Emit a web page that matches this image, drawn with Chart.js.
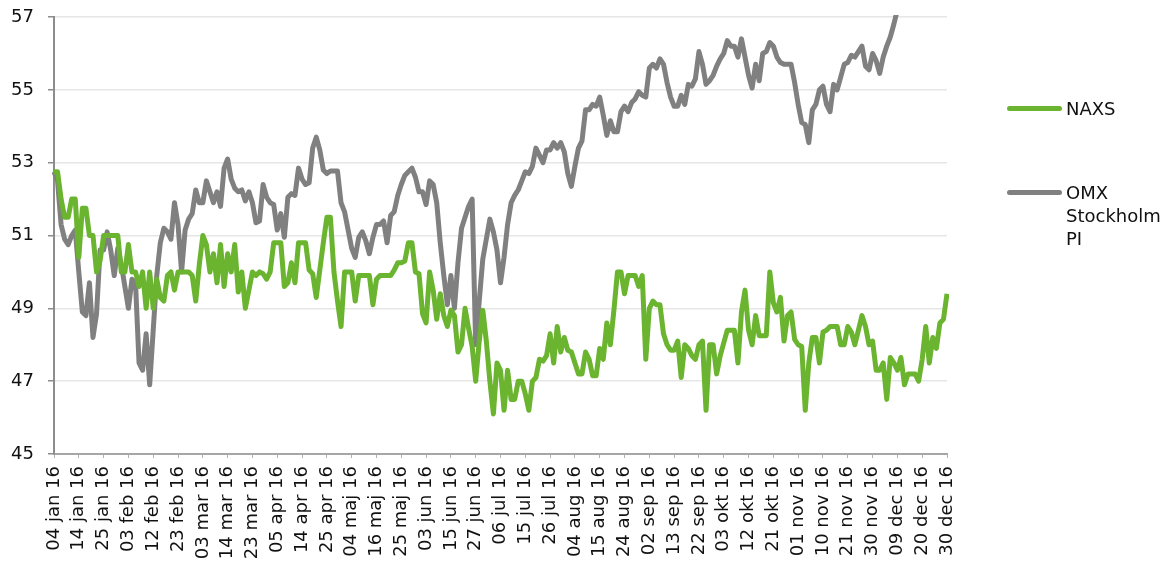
<!DOCTYPE html>
<html>
<head>
<meta charset="utf-8">
<script src="https://cdn.jsdelivr.net/npm/chart.js@4.4.1/dist/chart.umd.min.js"></script>
<style>
  html, body { margin: 0; padding: 0; background: #ffffff; }
  #wrap { position: relative; width: 1172px; height: 562px; overflow: hidden; }
  #chart { position: absolute; left: 0; top: 0; }
  .lg-swatch { position: absolute; height: 5px; border-radius: 3px; }
  .lg-text { position: absolute; font-family: "DejaVu Sans", Verdana, sans-serif; font-size: 18px; line-height: 23px; color: #111111; }
</style>
</head>
<body>
<div id="wrap">
  <canvas id="chart" width="1172" height="562"></canvas>
  <div class="lg-swatch" style="left:1007px; top:106px; width:55px; background:#6ab42f;"></div>
  <div class="lg-text" style="left:1066px; top:97px;">NAXS</div>
  <div class="lg-swatch" style="left:1007px; top:190px; width:55px; background:#808080;"></div>
  <div class="lg-text" style="left:1066px; top:181px;">OMX<br>Stockholm<br>PI</div>
</div>
<script>
// ---- Data ----
const monthNames = ['jan','feb','mar','apr','maj','jun','jul','aug','sep','okt','nov','dec'];
const holidays = ['2016-01-01','2016-01-06','2016-03-25','2016-03-28','2016-05-05','2016-06-06','2016-06-24','2016-12-26'];
const tickEvery = 7;

// Trading-day categories (Nasdaq Stockholm, 2016)
const categories = [];
(function () {
  const d = new Date(Date.UTC(2016, 0, 1));
  while (d.getUTCFullYear() === 2016) {
    const wd = d.getUTCDay();
    const iso = d.toISOString().slice(0, 10);
    if (wd !== 0 && wd !== 6 && holidays.indexOf(iso) < 0) {
      const dd = String(d.getUTCDate()).padStart(2, '0');
      categories.push(dd + ' ' + monthNames[d.getUTCMonth()] + ' 16');
    }
    d.setUTCDate(d.getUTCDate() + 1);
  }
})();

const naxs = [
  52.75,52.75,52.0,51.5,51.5,52.0,52.0,50.4,51.75,51.75,
  51.0,51.0,50.0,50.3,51.0,51.0,51.0,51.0,51.0,50.0,
  50.0,50.75,50.0,50.0,49.6,50.0,49.0,50.0,49.0,49.8,
  49.3,49.2,49.9,50.0,49.5,50.0,50.0,50.0,50.0,49.9,
  49.2,50.2,51.0,50.75,50.0,50.5,49.7,50.75,49.6,50.5,
  50.0,50.75,49.45,50.0,49.0,49.5,50.0,49.9,50.0,49.95,
  49.8,50.0,50.8,50.8,50.8,49.6,49.7,50.25,49.7,50.8,
  50.8,50.8,50.05,49.95,49.3,50.05,50.8,51.5,51.5,50.0,
  49.2,48.5,50.0,50.0,50.0,49.2,49.9,49.9,49.9,49.9,
  49.1,49.8,49.9,49.9,49.9,49.9,50.05,50.25,50.25,50.3,
  50.8,50.8,50.0,49.95,48.85,48.6,50.0,49.5,48.7,49.4,
  48.8,48.5,48.95,48.8,47.8,48.0,49.0,48.45,47.95,47.0,
  48.1,48.95,48.1,47.0,46.1,47.5,47.3,46.2,47.3,46.5,
  46.5,47.0,47.0,46.65,46.2,47.0,47.1,47.6,47.55,47.7,
  48.3,47.5,48.5,47.8,48.2,47.85,47.8,47.5,47.2,47.2,
  47.8,47.6,47.15,47.15,47.9,47.6,48.6,48.0,48.95,50.0,
  50.0,49.4,49.9,49.9,49.9,49.6,49.9,47.6,49.0,49.2,
  49.1,49.1,48.3,48.0,47.85,47.85,48.1,47.1,48.0,47.9,
  47.7,47.6,48.0,48.1,46.2,48.0,48.0,47.2,47.7,48.05,
  48.4,48.4,48.4,47.5,48.9,49.5,48.4,48.0,48.8,48.25,
  48.25,48.25,50.0,49.15,48.9,49.3,48.1,48.8,48.9,48.15,
  48.0,47.95,46.2,47.5,48.2,48.2,47.5,48.35,48.4,48.5,
  48.5,48.5,48.0,48.0,48.5,48.35,48.0,48.4,48.8,48.5,
  48.0,48.1,47.3,47.3,47.5,46.5,47.65,47.5,47.3,47.65,
  46.9,47.2,47.2,47.2,47.0,47.6,48.5,47.5,48.2,47.9,
  48.6,48.7,49.4
];

const omx = [
  52.75,52.5,51.3,50.9,50.75,51.0,51.15,50.0,48.9,48.8,
  49.7,48.2,48.85,50.6,50.6,51.1,50.6,49.9,50.65,50.2,
  49.6,49.0,49.8,49.7,47.5,47.3,48.3,46.9,48.4,49.9,
  50.8,51.2,51.1,50.9,51.9,51.3,50.0,51.15,51.45,51.6,
  52.25,51.9,51.9,52.5,52.2,51.9,52.2,51.8,52.85,53.1,
  52.55,52.3,52.2,52.25,51.95,52.2,51.9,51.35,51.4,52.4,
  52.05,51.9,51.85,51.15,51.6,50.95,52.05,52.15,52.1,52.85,
  52.55,52.4,52.45,53.4,53.7,53.35,52.8,52.7,52.77,52.77,
  52.77,51.9,51.65,51.15,50.65,50.4,50.95,51.1,50.85,50.5,
  50.95,51.3,51.3,51.4,50.8,51.55,51.65,52.1,52.4,52.65,
  52.75,52.85,52.6,52.2,52.2,51.85,52.5,52.4,51.9,50.8,
  49.9,49.1,49.9,49.0,50.25,51.2,51.5,51.8,52.0,48.0,
  49.2,50.35,50.9,51.45,51.1,50.6,49.7,50.4,51.3,51.9,
  52.1,52.25,52.5,52.75,52.7,52.9,53.4,53.2,53.0,53.35,
  53.35,53.55,53.4,53.55,53.3,52.7,52.35,52.9,53.4,53.6,
  54.45,54.45,54.6,54.55,54.8,54.3,53.75,54.15,53.85,53.85,
  54.4,54.55,54.4,54.65,54.75,54.95,54.85,54.8,55.6,55.7,
  55.6,55.85,55.7,55.2,54.8,54.55,54.55,54.85,54.6,55.15,
  55.1,55.3,56.05,55.7,55.15,55.25,55.4,55.65,55.85,56.0,
  56.35,56.2,56.2,55.9,56.4,55.9,55.4,55.05,55.7,55.25,
  56.0,56.05,56.3,56.2,55.9,55.75,55.7,55.7,55.7,55.2,
  54.6,54.1,54.05,53.55,54.45,54.6,55.0,55.1,54.6,54.4,
  55.15,55.0,55.35,55.7,55.75,55.95,55.9,56.05,56.2,55.65,
  55.55,56.0,55.8,55.45,55.9,56.2,56.45,56.8,57.2,57.5,
  57.9,58.2,58.0,58.3,58.5,58.4,58.6,58.8,58.7,58.9,
  59.0,58.8,59.0
];

const yMin = 45, yMax = 57, yStep = 2;
const seriesNames = ['NAXS', 'OMX Stockholm PI'];
const seriesColors = ['#6ab42f', '#808080'];

// ---- Chart ----
const FONT = '"DejaVu Sans", Verdana, sans-serif';
new Chart(document.getElementById('chart'), {
  type: 'line',
  data: {
    labels: categories,
    datasets: [
      { label: seriesNames[1], data: omx, borderColor: seriesColors[1], borderWidth: 5, borderJoinStyle: 'round', pointRadius: 0, tension: 0, fill: false, clip: 2, order: 2 },
      { label: seriesNames[0], data: naxs, borderColor: seriesColors[0], borderWidth: 5, borderJoinStyle: 'round', pointRadius: 0, tension: 0, fill: false, clip: 2, order: 1 }
    ]
  },
  options: {
    responsive: false,
    animation: false,
    layout: { padding: { left: 0, right: 225, top: 17, bottom: 0 } },
    plugins: { legend: { display: false }, tooltip: { enabled: false } },
    scales: {
      x: {
        type: 'category',
        offset: false,
        afterFit: s => { s.height = 108; s.paddingLeft = 0; s.paddingRight = 0; },
        border: { display: true, color: '#a6a6a6', width: 2 },
        grid: { display: true, drawOnChartArea: false, drawTicks: true, tickLength: 4, tickColor: '#b0b0b0', lineWidth: 1 },
        ticks: {
          autoSkip: false,
          maxRotation: 90,
          minRotation: 90,
          padding: 8,
          color: '#111111',
          font: { family: FONT, size: 18 },
          callback: function (v, i) { return i % tickEvery === 0 ? categories[i] : null; }
        }
      },
      y: {
        min: yMin,
        max: yMax,
        afterFit: s => { s.width = 54; s.paddingTop = 0; s.paddingBottom = 0; },
        border: { display: true, color: '#8c8c8c', width: 2 },
        grid: { color: '#e6e6e6', lineWidth: 1.5, drawTicks: true, tickLength: 6, tickColor: '#8c8c8c' },
        ticks: { stepSize: yStep, padding: 14, color: '#111111', font: { family: FONT, size: 18 } }
      }
    }
  }
});
</script>
</body>
</html>
